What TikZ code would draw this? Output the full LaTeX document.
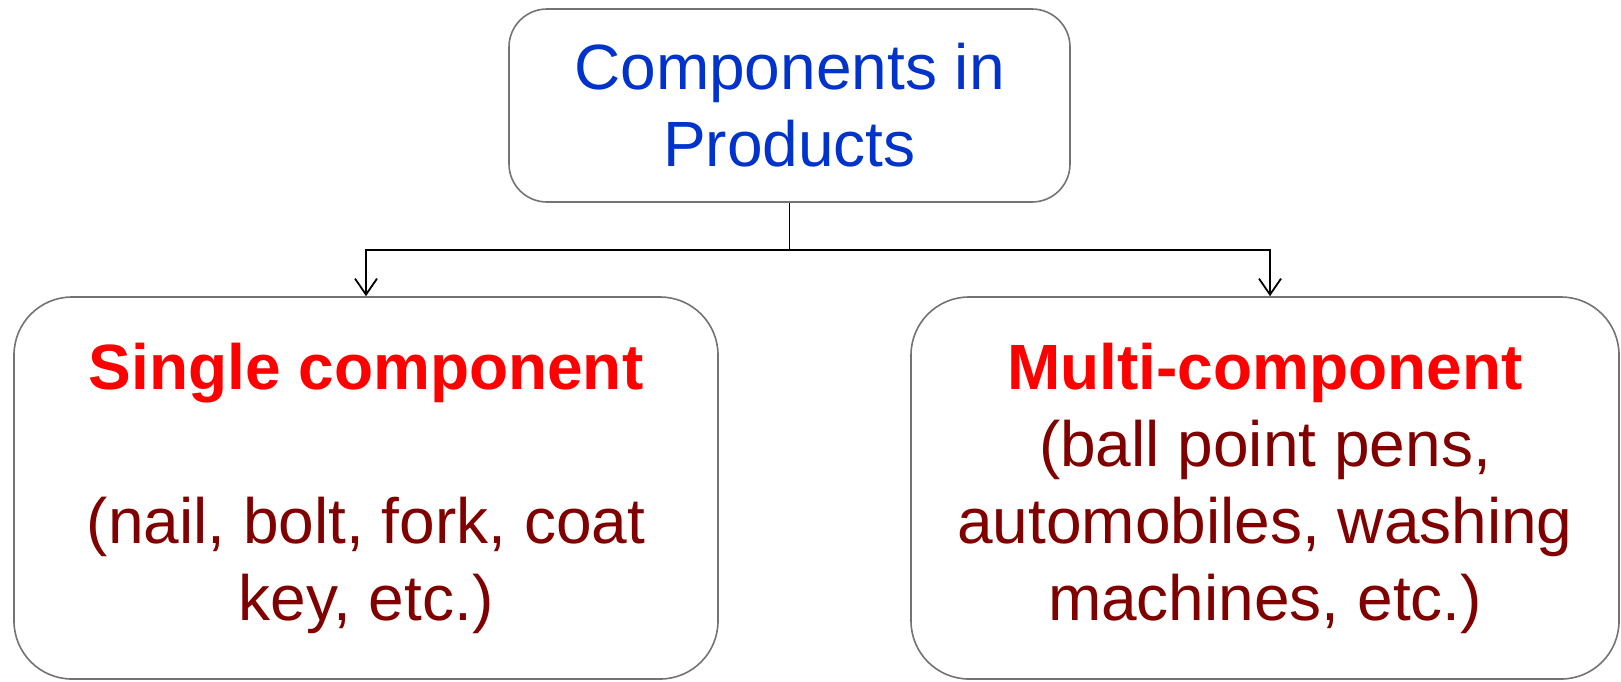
\documentclass[tikz,border=0pt]{standalone}
\usepackage{fontspec}
\setmainfont{Liberation Sans}
\definecolor{headblue}{RGB}{0, 51, 204}
\definecolor{kindred}{RGB}{255, 0, 0}
\definecolor{exdarkred}{RGB}{128, 0, 0}
\usetikzlibrary{arrows.meta, positioning}

\begin{document}
\begin{tikzpicture}[
  x=1pt, y=-1pt,
  cbox/.style={draw=black!55, line width=1.6pt, fill=white, align=center, inner sep=0pt,
    font=\fontsize{64}{77}\selectfont},
  arr/.style={-{Straight Barb[length=16pt, width=22pt, line width=1.8pt]}, line width=1.8pt},
  kind/.style={font=\bfseries, text=kindred}
]
  \useasboundingbox (0,0) rectangle (1621,681);

  % --- Top box ---
  \node[cbox, text=headblue, rounded corners=38pt, minimum width=561pt, minimum height=193pt]
    (comp) at (789.5,105.5) {Components in\\Products};

  % --- Single component ---
  \node[cbox, text=exdarkred, rounded corners=58pt, minimum width=704pt, minimum height=382pt]
    (single) at (366,488) {{\bfseries\color{kindred}Single component}\\[77pt]
      (nail, bolt, fork, coat\\key, etc.)};

  % --- Multi-component ---
  \node[cbox, text=exdarkred, rounded corners=58pt, minimum width=708pt, minimum height=382pt]
    (multi) at (1265,488) {{\bfseries\color{kindred}Multi-component}\\
      (ball point pens,\\automobiles, washing\\machines, etc.)};

  % --- Connectors ---
  \draw[line width=1.8pt] (comp.south) -- ++(0,47) coordinate (split);
  \draw[arr] (split) -| (single.north);
  \draw[arr] (split) -| ([xshift=5pt]multi.north);
\end{tikzpicture}
\end{document}
